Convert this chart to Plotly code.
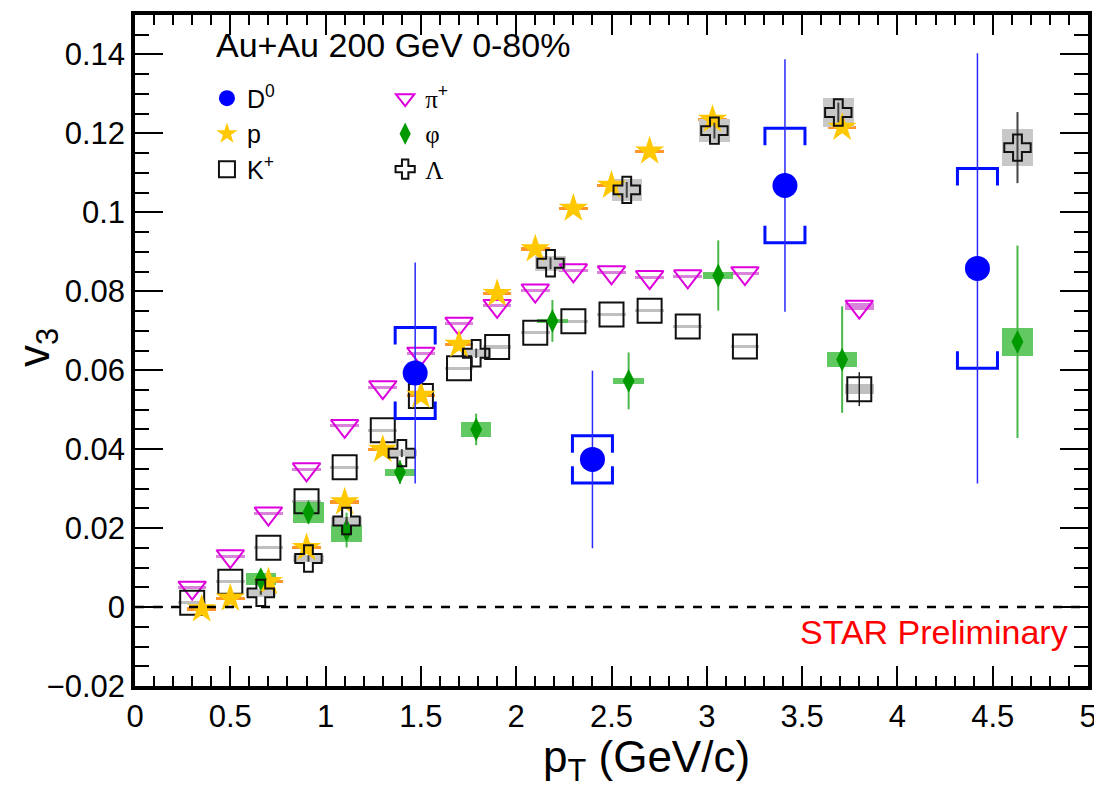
import plotly.graph_objects as go

# ---------------- data ----------------
d0_pt = [1.47, 2.40, 3.41, 4.42]
d0_v3 = [0.0593, 0.0374, 0.1068, 0.0858]
d0_stat = [0.028, 0.0225, 0.032, 0.0545]
d0_sys = [0.0115, 0.006, 0.0145, 0.0253]

pi_pt = [0.3, 0.5, 0.7, 0.9, 1.1, 1.3, 1.5, 1.7, 1.9, 2.1, 2.3, 2.5, 2.7, 2.9, 3.2, 3.8]
pi_v3 = [0.0049, 0.0129, 0.0237, 0.0349, 0.0459, 0.0557, 0.0642, 0.0718, 0.0763,
         0.0802, 0.0853, 0.0848, 0.0836, 0.0838, 0.0846, 0.0761]
pi_sys = [0.0004] * 15 + [0.0009]

k_pt = [0.3, 0.5, 0.7, 0.9, 1.1, 1.3, 1.5, 1.7, 1.9, 2.1, 2.3, 2.5, 2.7, 2.9, 3.2, 3.8]
k_v3 = [0.0011, 0.0064, 0.0150, 0.0268, 0.0354, 0.0448, 0.0535, 0.0605, 0.0659,
        0.0695, 0.0724, 0.0741, 0.0751, 0.0711, 0.0660, 0.0552]
k_stat = [0.0] * 15 + [0.0043]
k_sys = [0.0004] * 15 + [0.0012]

p_pt = [0.35, 0.5, 0.7, 0.9, 1.1, 1.3, 1.5, 1.7, 1.9, 2.1, 2.3, 2.5, 2.7, 3.03, 3.71]
p_v3 = [-0.0005, 0.0022, 0.0064, 0.0150, 0.0266, 0.0399, 0.0536, 0.0665, 0.0794,
        0.0907, 0.1010, 0.1068, 0.1155, 0.1235, 0.1215]
p_sys = [0.0004] * 15

phi_pt = [0.66, 0.91, 1.11, 1.39, 1.79, 2.19, 2.59, 3.06, 3.71, 4.63]
phi_v3 = [0.0071, 0.0240, 0.0195, 0.0342, 0.0450, 0.0725, 0.0573, 0.0840, 0.0627, 0.0672]
phi_stat = [0.001, 0.003, 0.0044, 0.003, 0.004, 0.0053, 0.0072, 0.0089, 0.0135, 0.0244]
phi_sys = [0.0015, 0.0027, 0.0030, 0.0009, 0.0019, 0.0006, 0.0007, 0.0008, 0.0020, 0.0035]

lam_pt = [0.66, 0.91, 1.11, 1.40, 1.79, 2.18, 2.58, 3.04, 3.69, 4.63]
lam_v3 = [0.0036, 0.0123, 0.0218, 0.0390, 0.0643, 0.0871, 0.1057, 0.1207, 0.1253, 0.1164]
lam_stat = [0.0005, 0.0008, 0.001, 0.001, 0.0012, 0.0015, 0.002, 0.002, 0.0025, 0.0090]
lam_sys = [0.0010, 0.0010, 0.0011, 0.0008, 0.0010, 0.0019, 0.0027, 0.0030, 0.0036, 0.0046]

y_tick_vals = [-0.02, 0.0, 0.02, 0.04, 0.06, 0.08, 0.10, 0.12, 0.14]
y_tick_text = ["\u22120.02", "0", "0.02", "0.04", "0.06", "0.08", "0.1", "0.12", "0.14"]
x_tick_vals = [0, 0.5, 1, 1.5, 2, 2.5, 3, 3.5, 4, 4.5, 5]
x_tick_text = ["0", "0.5", "1", "1.5", "2", "2.5", "3", "3.5", "4", "4.5", "5"]

FONT = "Liberation Sans, Arial, Helvetica, sans-serif"
BOXW = 0.16


def greek(ch):
    return '<span style="font-family:Liberation Serif">' + ch + '</span>'


fig = go.Figure()


def sys_boxes(pt, v3, sys, color, width=BOXW):
    fig.add_trace(go.Bar(
        x=pt, y=[2 * s for s in sys], base=[v - s for v, s in zip(v3, sys)],
        width=width, marker=dict(color=color, line=dict(width=0)),
        showlegend=False, hoverinfo="skip"))


# systematic boxes / bars (drawn behind markers)
sys_boxes(pi_pt, pi_v3, pi_sys, "rgba(205,90,205,0.75)", 0.15)
sys_boxes(k_pt, k_v3, k_sys, "rgba(170,170,170,0.75)", 0.15)
sys_boxes(p_pt, p_v3, p_sys, "rgba(255,140,20,0.9)", 0.15)

# pi+
fig.add_trace(go.Scatter(
    x=pi_pt, y=pi_v3, mode="markers", name=greek("\u03c0") + "<sup>+</sup>",
    marker=dict(symbol="triangle-down-open", size=24, color="#dd00dd", line=dict(width=2)),
    legend="legend2", legendrank=1))
# K+
fig.add_trace(go.Scatter(
    x=k_pt, y=k_v3, mode="markers", name="K<sup>+</sup>",
    error_y=dict(type="data", array=k_stat, width=0, thickness=1.5, color="#222222"),
    marker=dict(symbol="square-open", size=24, color="#111111", line=dict(width=2)),
    legend="legend", legendrank=3))
# p
fig.add_trace(go.Scatter(
    x=p_pt, y=p_v3, mode="markers", name="p",
    marker=dict(symbol="star", size=22, color="#ffc800", line=dict(width=0)),
    legend="legend", legendrank=2))

# phi
sys_boxes(phi_pt, phi_v3, phi_sys, "rgba(70,190,70,0.85)")
fig.add_trace(go.Scatter(
    x=phi_pt, y=phi_v3, mode="markers", name=greek("\u03c6"),
    error_y=dict(type="data", array=phi_stat, width=0, thickness=2, color="#4cb84c"),
    marker=dict(symbol="diamond-tall", size=17, color="#009900", line=dict(width=0)),
    legend="legend2", legendrank=2))

# Lambda
sys_boxes(lam_pt, lam_v3, lam_sys, "rgba(200,200,200,1)")
fig.add_trace(go.Scatter(
    x=lam_pt, y=lam_v3, mode="markers", name=greek("\u039b"),
    error_y=dict(type="data", array=lam_stat, width=0, thickness=2, color="#444444"),
    marker=dict(symbol="cross", size=22, color="rgba(0,0,0,0)",
                line=dict(width=2, color="#111111")),
    legend="legend2", legendrank=3))

# D0 systematic brackets
bw, tip = 0.105, 0.0043
bx, by = [], []
for x, y, s in zip(d0_pt, d0_v3, d0_sys):
    bx += [x - bw, x - bw, x + bw, x + bw, None]
    by += [y + s - tip, y + s, y + s, y + s - tip, None]
    bx += [x - bw, x - bw, x + bw, x + bw, None]
    by += [y - s + tip, y - s, y - s, y - s + tip, None]
fig.add_trace(go.Scatter(x=bx, y=by, mode="lines", line=dict(color="#0010ff", width=3),
                         showlegend=False, hoverinfo="skip"))
# D0
fig.add_trace(go.Scatter(
    x=d0_pt, y=d0_v3, mode="markers", name="D<sup>0</sup>",
    error_y=dict(type="data", array=d0_stat, width=0, thickness=1.5, color="#2a2aff"),
    marker=dict(symbol="circle", size=25, color="#0000ff", line=dict(width=0)),
    legend="legend", legendrank=1))

# zero line
fig.add_shape(type="line", xref="paper", yref="y", x0=0, x1=1, y0=0, y1=0,
              line=dict(color="black", width=2.5, dash="dash"))

fig.add_annotation(text="Au+Au 200 GeV 0-80%", xref="paper", yref="paper",
                   x=0.083, y=0.986, xanchor="left", yanchor="top", showarrow=False,
                   font=dict(family=FONT, size=34, color="black"))
fig.add_annotation(text="STAR Preliminary", xref="paper", yref="paper",
                   x=0.981, y=0.080, xanchor="right", yanchor="middle", showarrow=False,
                   font=dict(family=FONT, size=34, color="#ff0000"))
# axis titles
fig.add_annotation(text="p<sub>T</sub> (GeV/c)", xref="paper", yref="paper",
                   x=0.537, y=-0.111, xanchor="center", yanchor="middle", showarrow=False,
                   font=dict(family=FONT, size=44, color="black"))
fig.add_annotation(text="v<sub>3</sub>", xref="paper", yref="paper", textangle=-90,
                   x=-0.103, y=0.505, xanchor="center", yanchor="middle", showarrow=False,
                   font=dict(family=FONT, size=44, color="black"))

legend_common = dict(bgcolor="rgba(0,0,0,0)", borderwidth=0, font=dict(family=FONT, size=25, color="black"),
                     itemsizing="trace", tracegroupgap=0, xanchor="left", yanchor="top",
                     traceorder="normal")

# the page body has an 8px margin: size the figure so the plot area lands where the reference has it
fig.update_layout(
    width=1086, height=780,
    margin=dict(l=127, r=6, t=7, b=102),
    paper_bgcolor="white", plot_bgcolor="white",
    barmode="overlay", bargap=0,
    showlegend=True,
    legend=dict(x=0.0755, y=0.91, **legend_common),
    legend2=dict(x=0.2625, y=0.91, **legend_common),
    font=dict(family=FONT, color="black"),
    xaxis=dict(range=[0, 5], tickmode="array", tickvals=x_tick_vals, ticktext=x_tick_text,
               ticks="inside", ticklen=20, tickwidth=1.5, tickcolor="black",
               minor=dict(ticks="inside", dtick=0.1, tick0=0, ticklen=10, tickwidth=1.5,
                          tickcolor="black", showgrid=False),
               showline=True, linewidth=3.5, linecolor="black", mirror="allticks",
               showgrid=False, zeroline=False, automargin=False, ticklabeloverflow="allow",
               tickfont=dict(family=FONT, size=31, color="black")),
    yaxis=dict(range=[-0.02, 0.15], tickmode="array", tickvals=y_tick_vals, ticktext=y_tick_text,
               ticks="inside", ticklen=28, tickwidth=1.5, tickcolor="black",
               minor=dict(ticks="inside", dtick=0.005, tick0=0, ticklen=14, tickwidth=1.5,
                          tickcolor="black", showgrid=False),
               showline=True, linewidth=3.5, linecolor="black", mirror="allticks",
               showgrid=False, zeroline=False, automargin=False, ticklabeloverflow="allow",
               tickfont=dict(family=FONT, size=31, color="black")),
)

fig.write_html("out.html")
